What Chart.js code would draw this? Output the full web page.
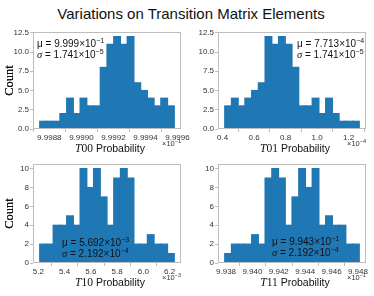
<!DOCTYPE html>
<html>
<head>
<meta charset="utf-8">
<script src="https://cdn.jsdelivr.net/npm/chart.js@4.4.0/dist/chart.umd.min.js"></script>
<style>
  body { margin: 0; background: #fff; }
  #wrap { position: relative; width: 374px; height: 296px; overflow: hidden; }
  #wrap canvas { position: absolute; left: 0; top: 0; }
  #title { position: absolute; top: 5px; left: 0; width: 382px; text-align: center;
           font: 15px "Liberation Sans", Arial, sans-serif; color: #111; }
</style>
</head>
<body>
<div id="wrap">
  <div id="title">Variations on Transition Matrix Elements</div>
  <canvas id="c00" width="374" height="296"></canvas>
  <canvas id="c01" width="374" height="296"></canvas>
  <canvas id="c10" width="374" height="296"></canvas>
  <canvas id="c11" width="374" height="296"></canvas>
</div>
<script>
// histogram counts, 20 bins each
const t00Counts = [1, 1, 1, 2, 4, 2, 4, 3, 3, 8, 11, 12, 11, 12, 6, 5, 4, 3, 4, 3];
const t01Counts = [3, 4, 3, 4, 5, 6, 12, 11, 12, 11, 8, 3, 3, 4, 2, 4, 2, 1, 1, 1];
const t10Counts = [2, 2, 4, 4, 5, 4, 10, 8, 10, 7, 4, 9, 10, 9, 2, 2, 3, 2, 2, 1];
const t11Counts = [1, 2, 2, 2, 3, 2, 9, 10, 9, 4, 7, 10, 8, 10, 4, 5, 4, 4, 2, 2];

// first / last bin edge (in units of the axis offset)
const t00Edges = [9.99874, 9.99958];
const t01Edges = [0.413, 1.268];
const t10Edges = [5.21, 6.235];
const t11Edges = [9.9379, 9.9481];

// tick labels
const t00Ticks = [9.9988, 9.999, 9.9992, 9.9994, 9.9996];
const t01Ticks = [0.4, 0.6, 0.8, 1.0, 1.2];
const t10Ticks = [5.2, 5.4, 5.6, 5.8, 6.0, 6.2];
const t11Ticks = [9.938, 9.94, 9.942, 9.944, 9.946, 9.948];
const countTicksTop = [0, 2.5, 5, 7.5, 10, 12.5];
const countTicksBottom = [0, 2, 4, 6, 8, 10];

// mean / std annotations: [mantissa, exponent]
const t00Stats = [['9.999', '\u22121'], ['1.741', '\u22125']];
const t01Stats = [['7.713', '\u22124'], ['1.741', '\u22125']];
const t10Stats = [['5.692', '\u22123'], ['2.192', '\u22124']];
const t11Stats = [['9.943', '\u22121'], ['2.192', '\u22124']];

const SANS = '"Liberation Sans", Arial, sans-serif';
const SERIF = '"Liberation Serif", "Times New Roman", serif';
const BAR = '#1f77b4';
const SPINE = '#bdbdbd';
const TICKTXT = '#333';

function drawParts(ctx, x, y, parts) {
  ctx.textAlign = 'left';
  ctx.textBaseline = 'alphabetic';
  for (const [t, f, dy] of parts) {
    ctx.font = f;
    ctx.fillText(t, x, y + (dy || 0));
    x += ctx.measureText(t).width;
  }
}
function partsWidth(ctx, parts) {
  let w = 0;
  for (const [t, f] of parts) { ctx.font = f; w += ctx.measureText(t).width; }
  return w;
}

function makePanel(id, o) {
  const n = o.counts.length;
  const bw = (o.edges[1] - o.edges[0]) / n;
  const pts = o.counts.map((c, i) => ({ x: o.edges[0] + bw * (i + 0.5), y: c }));
  const span = o.edges[1] - o.edges[0];
  const yW = 30, xH = 30;

  const deco = {
    id: 'deco' + id,
    afterDraw(chart) {
      const ctx = chart.ctx;
      const a = chart.chartArea;
      ctx.save();
      // full box
      ctx.strokeStyle = SPINE;
      ctx.lineWidth = 1;
      ctx.strokeRect(a.left + 0.5, a.top + 0.5, a.right - a.left - 1, a.bottom - a.top - 1);

      // x title
      const xt = [['T', 'italic 11.5px ' + SERIF], [o.name, '11.5px ' + SERIF], [' Probability', '10.5px ' + SANS]];
      ctx.fillStyle = '#111';
      const w = partsWidth(ctx, xt);
      drawParts(ctx, (a.left + a.right) / 2 - w / 2 + 3, a.bottom + 22.5, xt);

      // y title
      ctx.save();
      ctx.translate(10, (a.top + a.bottom) / 2);
      ctx.rotate(-Math.PI / 2);
      ctx.font = '12.5px ' + SERIF;
      ctx.textAlign = 'center';
      ctx.textBaseline = 'middle';
      ctx.fillText('Count', 0, 0);
      ctx.restore();

      // offset text
      const ot = [['\u00d710', '7.5px ' + SANS], [o.offset, '5.5px ' + SANS, -3]];
      ctx.fillStyle = TICKTXT;
      const ow = partsWidth(ctx, ot);
      drawParts(ctx, a.right - ow, a.bottom + o.offsetDy, ot);

      // stats
      ctx.fillStyle = '#111';
      const m = [['\u03bc = ' + o.stats[0][0] + '\u00d710', '10px ' + SANS], [o.stats[0][1], '7px ' + SANS, -4.5]];
      const s = [['\u03c3', 'italic 10.5px ' + SERIF], [' = ' + o.stats[1][0] + '\u00d710', '10px ' + SANS], [o.stats[1][1], '7px ' + SANS, -4.5]];
      drawParts(ctx, o.note[0], o.note[1], m);
      drawParts(ctx, o.note[0], o.note[1] + 11, s);
      ctx.restore();
    }
  };

  return new Chart(document.getElementById(id), {
    type: 'bar',
    data: {
      datasets: [{
        data: pts,
        backgroundColor: BAR,
        borderWidth: 0,
        inflateAmount: 0.6,
        barPercentage: 1,
        categoryPercentage: 1,
      }],
    },
    options: {
      responsive: false,
      animation: false,
      devicePixelRatio: 1,
      layout: {
        padding: {
          left: o.area[0] - yW,
          top: o.area[1],
          right: 374 - o.area[2],
          bottom: 296 - o.area[3] - xH,
        },
      },
      plugins: { legend: { display: false }, tooltip: { enabled: false } },
      scales: {
        x: {
          type: 'linear',
          offset: false,
          min: o.edges[0] - span * 0.05,
          max: o.edges[1] + span * 0.05,
          afterBuildTicks: (s) => { s.ticks = o.xTicks.map((v) => ({ value: v })); },
          afterFit: (s) => { s.height = xH; s.paddingLeft = 0; s.paddingRight = 0; },
          grid: { drawOnChartArea: false, drawTicks: true, tickLength: 3, color: SPINE },
          border: { display: false },
          ticks: {
            autoSkip: false, maxRotation: 0, padding: 1,
            color: TICKTXT, font: { family: SANS, size: 8 },
            callback: (v) => v.toFixed(o.xDec),
          },
        },
        y: {
          min: 0,
          max: o.yMax,
          afterBuildTicks: (s) => { s.ticks = o.yTicks.map((v) => ({ value: v })); },
          afterFit: (s) => { s.width = yW; s.paddingTop = 0; s.paddingBottom = 0; },
          grid: { drawOnChartArea: false, drawTicks: true, tickLength: 3, color: SPINE },
          border: { display: false },
          ticks: {
            padding: 1,
            color: TICKTXT, font: { family: SANS, size: 8 },
            callback: (v) => v.toFixed(o.yDec),
          },
        },
      },
    },
    plugins: [deco],
  });
}

makePanel('c00', {
  name: '00', counts: t00Counts, edges: t00Edges, xTicks: t00Ticks, xDec: 4,
  yTicks: countTicksTop, yDec: 1, yMax: 12.6,
  area: [33, 32, 181, 129], offset: '\u22121', offsetDy: 16.5,
  stats: t00Stats, note: [37, 47],
});
makePanel('c01', {
  name: '01', counts: t01Counts, edges: t01Edges, xTicks: t01Ticks, xDec: 1,
  yTicks: countTicksTop, yDec: 1, yMax: 12.6,
  area: [218, 32, 366, 129], offset: '\u22124', offsetDy: 16.5,
  stats: t01Stats, note: [297, 47],
});
makePanel('c10', {
  name: '10', counts: t10Counts, edges: t10Edges, xTicks: t10Ticks, xDec: 1,
  yTicks: countTicksBottom, yDec: 0, yMax: 10.5,
  area: [33, 164, 181, 263], offset: '\u22123', offsetDy: 16.5,
  stats: t10Stats, note: [62, 246],
});
makePanel('c11', {
  name: '11', counts: t11Counts, edges: t11Edges, xTicks: t11Ticks, xDec: 3,
  yTicks: countTicksBottom, yDec: 0, yMax: 10.5,
  area: [218, 164, 366, 263], offset: '\u22121', offsetDy: 16.5,
  stats: t11Stats, note: [272, 245],
});
</script>
</body>
</html>
